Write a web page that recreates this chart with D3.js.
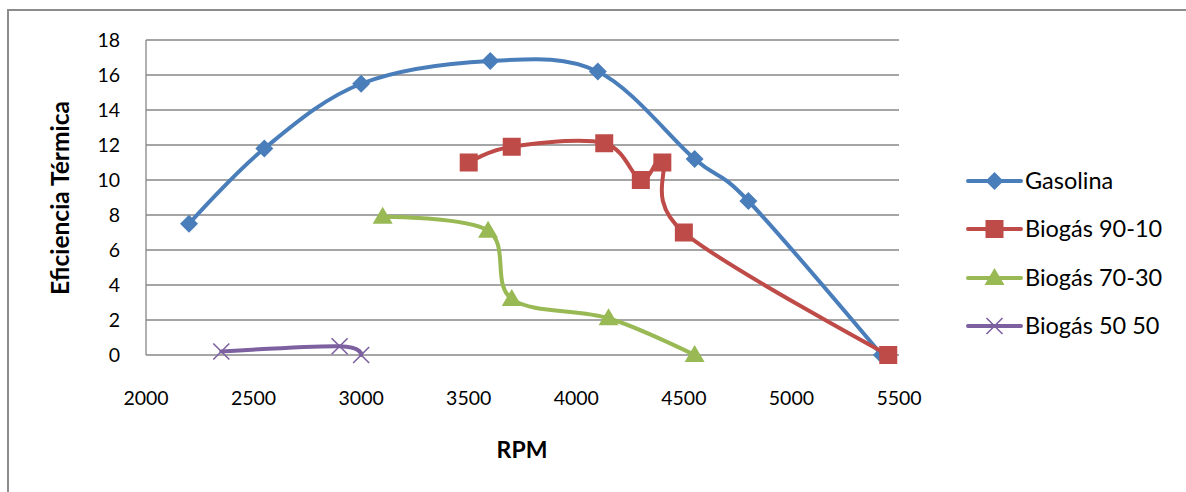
<!DOCTYPE html>
<html><head><meta charset="utf-8">
<script src="https://cdn.jsdelivr.net/npm/d3@7"></script>
<style>body{margin:0;background:#fff}svg{display:block;font-family:Lato,"Open Sans",sans-serif}</style>
</head><body><svg id="c" width="1186" height="492"></svg>
<script>
const seriesNames = ["Gasolina","Biogás 90-10","Biogás 70-30","Biogás 50 50"];
const gasolinaRPM = [2200,2550,3000,3600,4100,4550,4800,5420];
const gasolinaEf  = [7.5,11.8,15.5,16.8,16.2,11.2,8.8,0];
const bio9010RPM = [3500,3700,4130,4300,4400,4500,5450];
const bio9010Ef  = [11,11.9,12.1,10,11,7,0];
const bio7030RPM = [3100,3590,3700,4150,4550];
const bio7030Ef  = [7.9,7.1,3.2,2.1,0];
const bio5050RPM = [2350,2900,3000];
const bio5050Ef  = [0.2,0.5,0];
const xTicks = [2000,2500,3000,3500,4000,4500,5000,5500];
const yTicks = [0,2,4,6,8,10,12,14,16,18];
const colors = ["#4A7EBB","#BE4B48","#98B954","#7D60A0"];
const markers = ["diamond","square","triangle","x"];

const series = [
  {name:seriesNames[0], x:gasolinaRPM, y:gasolinaEf},
  {name:seriesNames[1], x:bio9010RPM, y:bio9010Ef},
  {name:seriesNames[2], x:bio7030RPM, y:bio7030Ef},
  {name:seriesNames[3], x:bio5050RPM, y:bio5050Ef}
];

const svg = d3.select("#c");
svg.append("rect").attr("x",8).attr("y",10).attr("width",1250).attr("height",560)
  .attr("fill","none").attr("stroke","#8c8c8c").attr("stroke-width",2);

const x = d3.scaleLinear().domain([2000,5500]).range([146,899]);
const y = d3.scaleLinear().domain([0,18]).range([355,40]);

svg.append("g").selectAll("line").data(yTicks).join("line")
  .attr("x1",146).attr("x2",899).attr("y1",d=>y(d)).attr("y2",d=>y(d))
  .attr("stroke","#878787").attr("stroke-width",1.3);
svg.append("line").attr("x1",146).attr("x2",146).attr("y1",40).attr("y2",355)
  .attr("stroke","#878787").attr("stroke-width",1.3);

svg.append("g").selectAll("text").data(yTicks).join("text")
  .attr("x",120).attr("y",d=>y(d)).attr("dy","0.36em").attr("text-anchor","end")
  .attr("font-size",19.5).attr("fill","#000").text(d=>d);
svg.append("g").selectAll("text").data(xTicks).join("text")
  .attr("x",d=>x(d)).attr("y",398).attr("dy","0.36em").attr("text-anchor","middle")
  .attr("font-size",19.5).attr("fill","#000").text(d=>d);

svg.append("text").attr("x",522).attr("y",450).attr("dy","0.36em").attr("text-anchor","middle")
  .attr("font-size",23).attr("font-weight","bold").text("RPM");
svg.append("text").attr("transform","translate(60,198) rotate(-90)").attr("dy","0.36em")
  .attr("text-anchor","middle").attr("font-size",24.5).attr("font-weight","bold").text("Eficiencia Térmica");

const line = d3.line().x(d=>x(d[0])).y(d=>y(d[1])).curve(d3.curveCardinal.tension(0));

function marker(g, type, cx, cy, color){
  if(type==="diamond"){
    g.append("path").attr("d",`M${cx},${cy-9}L${cx+9},${cy}L${cx},${cy+9}L${cx-9},${cy}Z`).attr("fill",color);
  } else if(type==="square"){
    g.append("rect").attr("x",cx-9).attr("y",cy-9).attr("width",18).attr("height",18).attr("fill",color);
  } else if(type==="triangle"){
    g.append("path").attr("d",`M${cx},${cy-10}L${cx+10},${cy+7}L${cx-10},${cy+7}Z`).attr("fill",color);
  } else {
    g.append("path").attr("d",`M${cx-8},${cy-8}L${cx+8},${cy+8}M${cx-8},${cy+8}L${cx+8},${cy-8}`)
      .attr("stroke",color).attr("stroke-width",1.6).attr("fill","none");
  }
}

series.forEach((s,i)=>{
  const pts = s.x.map((v,j)=>[v,s.y[j]]);
  const g = svg.append("g");
  g.append("path").attr("d",line(pts)).attr("fill","none").attr("stroke",colors[i])
    .attr("stroke-width",4).attr("stroke-linejoin","round").attr("stroke-linecap","round");
  pts.forEach(p=>marker(g, markers[i], x(p[0]), y(p[1]), colors[i]));
});

const ly = [181,229,278,326];
series.forEach((s,i)=>{
  const g = svg.append("g");
  g.append("line").attr("x1",968).attr("x2",1021).attr("y1",ly[i]).attr("y2",ly[i])
    .attr("stroke",colors[i]).attr("stroke-width",4).attr("stroke-linecap","round");
  marker(g, markers[i], 994.5, ly[i], colors[i]);
  g.append("text").attr("x",1025).attr("y",ly[i]).attr("dy","0.36em").attr("font-size",23.5)
    .attr("fill","#000").text(s.name);
});
</script></body></html>
